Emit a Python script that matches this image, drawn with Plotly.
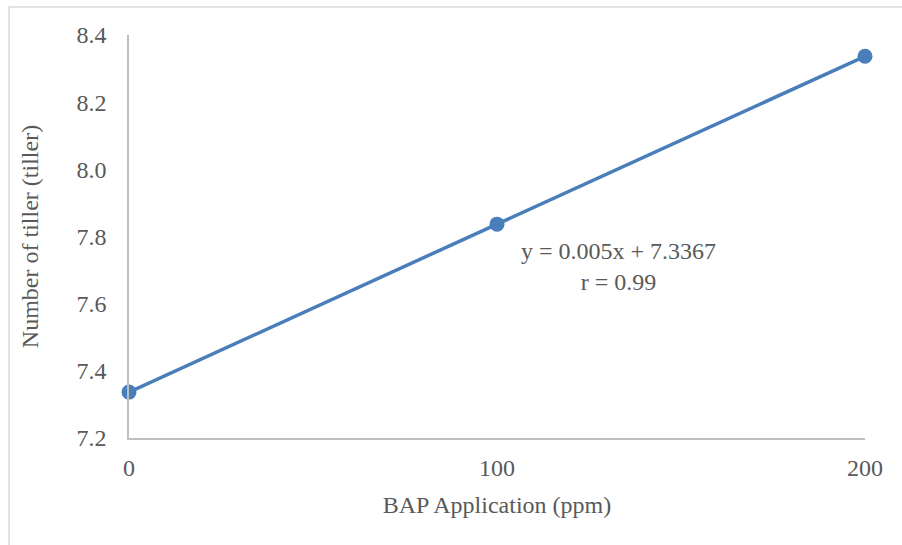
import plotly.graph_objects as go

bap_ppm = [0, 100, 200]
tillers = [7.3367, 7.8367, 8.3367]
y_ticks = [7.2, 7.4, 7.6, 7.8, 8.0, 8.2, 8.4]
x_ticks = [0, 100, 200]
equation_text = "y = 0.005x + 7.3367<br>r = 0.99"

FONT = "Liberation Serif"
TICK_COLOR = "#595959"

fig = go.Figure()
fig.add_trace(go.Scatter(
    x=bap_ppm, y=tillers, mode="lines+markers",
    line=dict(color="#4a7ebb", width=3.5),
    marker=dict(color="#4a7ebb", size=15),
    showlegend=False, cliponaxis=False,
))

fig.add_annotation(
    x=133, y=7.71, xref="x", yref="y", text=equation_text, showarrow=False,
    font=dict(family=FONT, size=24, color=TICK_COLOR), align="center",
)

fig.add_shape(type="rect", xref="paper", yref="paper",
              x0=-0.163, x1=1.2, y0=-0.4, y1=1.0695,
              line=dict(color="#d9d9d9", width=1.5), fillcolor="rgba(0,0,0,0)", layer="below")

fig.update_layout(
    width=902, height=545,
    margin=dict(l=129, r=37, t=35, b=107),
    paper_bgcolor="white", plot_bgcolor="white",
    font=dict(family=FONT, size=24, color=TICK_COLOR),
    xaxis=dict(
        range=[0, 200], tickvals=x_ticks, ticktext=[str(v) for v in x_ticks],
        showgrid=False, zeroline=False, showline=True, linecolor="#bfbfbf", linewidth=1.5,
        ticks="outside", ticklen=7, tickcolor="rgba(0,0,0,0)",
        title=dict(text="BAP Application (ppm)", standoff=17, font=dict(size=24, color=TICK_COLOR)),
    ),
    yaxis=dict(
        range=[7.2, 8.4], tickvals=y_ticks, ticktext=[f"{v:.1f}" for v in y_ticks],
        showgrid=False, zeroline=False, showline=True, linecolor="#bfbfbf", linewidth=1.5,
        ticks="outside", ticklen=16, tickcolor="rgba(0,0,0,0)",
        title=dict(text="Number of tiller (tiller)", standoff=31, font=dict(size=24, color=TICK_COLOR)),
    ),
)

fig.write_html("out.html")
